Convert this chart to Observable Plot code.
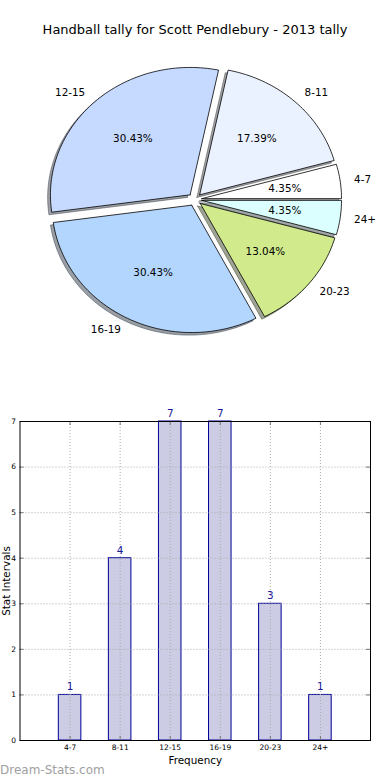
<!DOCTYPE html>
<html><head><meta charset="utf-8">
<script src="https://cdn.jsdelivr.net/npm/d3@7"></script>
<script src="https://cdn.jsdelivr.net/npm/@observablehq/plot@0.6"></script>
<style>
body{margin:0;background:#fff;width:390px;height:780px;position:relative;overflow:hidden;font-family:"DejaVu Sans",sans-serif;}
#title{position:absolute;top:21px;left:0;width:390px;text-align:center;font-size:13px;line-height:18px;color:#000;}
#pie{position:absolute;top:0;left:0;}
#bar{position:absolute;top:380px;left:0;}
#wm{position:absolute;left:0;top:762px;font-size:12px;line-height:16px;color:#a0a0a0;}
</style></head><body>
<div id="pie"></div><div id="bar"></div>
<div id="title">Handball tally for Scott Pendlebury - 2013 tally</div>
<div id="wm">Dream-Stats.com</div>
<script>
const categories = ["4-7", "8-11", "12-15", "16-19", "20-23", "24+"];
const counts = [1, 4, 7, 7, 3, 1];
const sliceColors = ["#ffffff", "#eaf1ff", "#c6d9ff", "#b3d6ff", "#d1eb8c", "#dbffff"];
const yTicks = [0, 1, 2, 3, 4, 5, 6, 7];

const total = d3.sum(counts);
const explode = 0.05;
const F = "DejaVu Sans";

// pie geometry (data units, radius 1)
let acc = 0;
const wedges = categories.map((c, i) => {
  const a0 = acc / total * 2 * Math.PI;
  acc += counts[i];
  const a1 = acc / total * 2 * Math.PI;
  const mid = (a0 + a1) / 2;
  const ox = explode * Math.cos(mid), oy = explode * Math.sin(mid);
  const n = Math.max(8, Math.ceil((a1 - a0) / (2 * Math.PI) * 240));
  const pts = [{x: ox, y: oy}];
  for (let k = 0; k <= n; k++) {
    const a = a0 + (a1 - a0) * k / n;
    pts.push({x: ox + Math.cos(a), y: oy + Math.sin(a)});
  }
  pts.push({x: ox, y: oy});
  const sh = pts.map(p => ({x: p.x - 0.02, y: p.y - 0.02}));
  const base = d3.rgb(sliceColors[i]);
  const shadowColor = d3.rgb(base.r * 0.3, base.g * 0.3, base.b * 0.3).formatHex();
  return {
    cat: c, color: sliceColors[i], pts, sh, shadowColor,
    lx: ox + 1.1 * Math.cos(mid), ly: oy + 1.1 * Math.sin(mid),
    px: ox + 0.6 * Math.cos(mid), py: oy + 0.6 * Math.sin(mid),
    pct: (counts[i] / total * 100).toFixed(2) + "%",
    right: Math.cos(mid) > 0
  };
});

const cx = 194.4, cy = 199, rx = 139.7, ry = 127.4;
const pie = Plot.plot({
  width: 390, height: 370, margin: 0,
  x: {domain: [-1, 1], range: [cx - rx, cx + rx], axis: null},
  y: {domain: [-1, 1], range: [cy + ry, cy - ry], axis: null},
  style: {fontFamily: F, background: "transparent"},
  marks: [
    ...wedges.map(w => Plot.line(w.sh, {x: "x", y: "y", fill: w.shadowColor, fillOpacity: 0.5, stroke: w.shadowColor, strokeOpacity: 0.5, strokeWidth: 1, strokeLinejoin: "miter", curve: "linear"})),
    ...wedges.map(w => Plot.line(w.pts, {x: "x", y: "y", fill: w.color, stroke: "#000", strokeWidth: 0.8, strokeLinejoin: "miter", curve: "linear"})),
    Plot.text(wedges.filter(w => w.right), {x: "lx", y: "ly", text: "cat", textAnchor: "start", lineAnchor: "middle", fontSize: 10.4, fill: "#000"}),
    Plot.text(wedges.filter(w => !w.right), {x: "lx", y: "ly", text: "cat", textAnchor: "end", lineAnchor: "middle", fontSize: 10.4, fill: "#000"}),
    Plot.text(wedges, {x: "px", y: "py", text: "pct", textAnchor: "middle", lineAnchor: "middle", fontSize: 10.4, fill: "#000"})
  ]
});
document.getElementById("pie").appendChild(pie);

// bar chart
const barData = categories.map((c, i) => ({cat: c, pos: i + 1, count: counts[i]}));
const xPos = barData.map(d => d.pos);
const halfW = 0.225;
const bar = Plot.plot({
  width: 390, height: 400,
  marginTop: 41, marginBottom: 40, marginLeft: 19.5, marginRight: 20,
  style: {fontFamily: F, fontSize: "7.5px", background: "transparent", color: "#000"},
  x: {domain: [0, 7], ticks: xPos, tickFormat: d => categories[d - 1], tickSize: 0, tickPadding: 4, label: null},
  y: {domain: [0, 7], ticks: yTicks, tickFormat: d => String(d), tickSize: 0, tickPadding: 4, label: null},
  marks: [
    Plot.rectY(barData, {x1: d => d.pos - halfW, x2: d => d.pos + halfW, y1: 0, y2: "count", fill: "#ccccE5", stroke: "#000099", strokeWidth: 1}),
    Plot.ruleX(xPos, {stroke: "#aaa", strokeDasharray: "1,2", strokeWidth: 1}),
    Plot.ruleY(yTicks.slice(1, -1), {stroke: "#aaa", strokeDasharray: "1,2", strokeWidth: 1}),
    Plot.ruleX(xPos, {y1: 0, y2: 0.09, stroke: "#777"}),
    Plot.ruleX(xPos, {y1: 7, y2: 6.91, stroke: "#777"}),
    Plot.ruleY(yTicks, {x1: 0, x2: 0.08, stroke: "#777"}),
    Plot.ruleY(yTicks, {x1: 7, x2: 6.92, stroke: "#777"}),
    Plot.frame({stroke: "#000", strokeWidth: 1}),
    Plot.text(barData, {x: "pos", y: "count", text: d => String(d.count), dy: -8, fill: "#1a1a9a", fontSize: 10.4}),
    Plot.text(["Frequency"], {frameAnchor: "bottom", dy: 20, textAnchor: "middle", lineAnchor: "middle", fontSize: 10.4, fill: "#000"}),
    Plot.text(["Stat Intervals"], {frameAnchor: "left", dx: -13, rotate: -90, textAnchor: "middle", lineAnchor: "middle", fontSize: 10.4, fill: "#000"})
  ]
});
document.getElementById("bar").appendChild(bar);
</script>
</body></html>
